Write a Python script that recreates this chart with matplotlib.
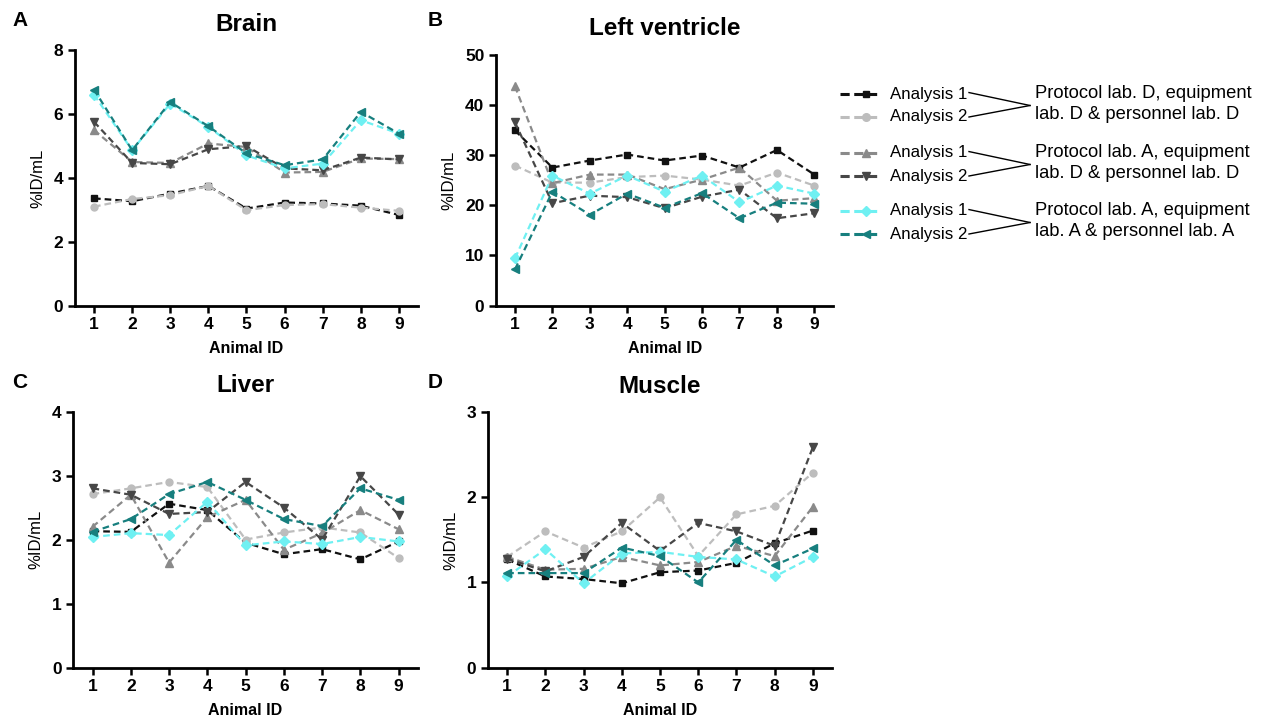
import matplotlib
matplotlib.use("Agg")
import matplotlib.pyplot as plt
from matplotlib.lines import Line2D
import numpy as np

plt.rcParams['font.family'] = ['Liberation Sans', 'DejaVu Sans']

animal_ids = [1, 2, 3, 4, 5, 6, 7, 8, 9]

# order: A1/A2 lab D, A1/A2 protocol A equip D, A1/A2 lab A
brain = [
    [3.36, 3.27, 3.51, 3.75, 3.04, 3.23, 3.20, 3.13, 2.84],
    [3.10, 3.34, 3.46, 3.75, 2.99, 3.15, 3.18, 3.07, 2.97],
    [5.50, 4.50, 4.47, 5.08, 4.97, 4.17, 4.19, 4.61, 4.59],
    [5.76, 4.47, 4.43, 4.90, 5.00, 4.30, 4.24, 4.64, 4.58],
    [6.61, 4.87, 6.33, 5.60, 4.71, 4.30, 4.45, 5.81, 5.39],
    [6.77, 4.87, 6.38, 5.62, 4.77, 4.40, 4.58, 6.07, 5.39],
]
left_ventricle = [
    [34.9, 27.5, 28.9, 30.1, 28.9, 29.9, 27.5, 31.0, 26.1],
    [27.9, 24.5, 24.5, 25.6, 25.9, 25.1, 23.9, 26.5, 23.9],
    [43.7, 24.4, 26.1, 26.1, 23.2, 25.1, 27.5, 20.9, 21.4],
    [36.5, 20.4, 21.9, 21.6, 19.4, 21.7, 23.1, 17.4, 18.4],
    [9.4, 25.9, 22.3, 25.9, 22.7, 25.9, 20.6, 23.9, 22.3],
    [7.2, 22.7, 18.1, 22.3, 19.5, 22.4, 17.4, 20.5, 20.3],
]
liver = [
    [2.13, 2.12, 2.56, 2.46, 1.95, 1.77, 1.85, 1.69, 1.97],
    [2.71, 2.80, 2.90, 2.82, 2.00, 2.11, 2.19, 2.11, 1.71],
    [2.20, 2.70, 1.64, 2.35, 2.62, 1.84, 2.10, 2.46, 2.16],
    [2.80, 2.70, 2.40, 2.43, 2.90, 2.50, 2.00, 2.99, 2.39],
    [2.04, 2.10, 2.07, 2.59, 1.91, 1.97, 1.93, 2.04, 1.97],
    [2.12, 2.32, 2.71, 2.90, 2.62, 2.32, 2.21, 2.80, 2.62],
]
muscle = [
    [1.27, 1.07, 1.04, 0.99, 1.12, 1.14, 1.23, 1.46, 1.61],
    [1.30, 1.60, 1.41, 1.60, 2.00, 1.31, 1.80, 1.90, 2.29],
    [1.30, 1.15, 1.16, 1.30, 1.20, 1.24, 1.43, 1.31, 1.89],
    [1.28, 1.13, 1.30, 1.70, 1.37, 1.70, 1.60, 1.43, 2.59],
    [1.07, 1.39, 0.99, 1.34, 1.36, 1.30, 1.27, 1.07, 1.30],
    [1.11, 1.11, 1.11, 1.41, 1.31, 1.00, 1.50, 1.20, 1.40],
]

series_labels = ["Analysis 1", "Analysis 2"] * 3
group_labels = ["Protocol lab. D, equipment\nlab. D & personnel lab. D",
                "Protocol lab. A, equipment\nlab. D & personnel lab. D",
                "Protocol lab. A, equipment\nlab. A & personnel lab. A"]

colors = ["#111111", "#bdbdbd", "#8a8a8a", "#474747", "#6ff0f2", "#177f7e"]
markers = ["s", "o", "^", "v", "D", "<"]
msizes = [4.5, 5, 5.5, 5.5, 5, 5.5]

# letter, title, data, y ticks, axes rect, letter position (px)
panels = [
    ("A", "Brain", brain, [0, 2, 4, 6, 8], [0.0592, 0.575, 0.271, 0.355], (12, 20)),
    ("B", "Left ventricle", left_ventricle, [0, 10, 20, 30, 40, 50], [0.392, 0.575, 0.266, 0.349], (428, 20)),
    ("C", "Liver", liver, [0, 1, 2, 3, 4], [0.058, 0.0716, 0.272, 0.356], (12, 383)),
    ("D", "Muscle", muscle, [0, 1, 2, 3], [0.3855, 0.0716, 0.2717, 0.355], (428, 383)),
]

W, H = 1266.0, 719.0
fig = plt.figure(figsize=(12.66, 7.19), dpi=100)

for letter, title, data, yticks, rect, lpos in panels:
    ax = fig.add_axes(rect)
    for i, vals in enumerate(data):
        ax.plot(animal_ids, vals, color=colors[i], lw=1.6, dashes=(3, 1.8),
                marker=markers[i], ms=msizes[i], mec=colors[i], mfc=colors[i])
    ax.set_xlim(0.5, 9.5)
    ax.set_ylim(yticks[0], yticks[-1])
    ax.set_yticks(yticks)
    ax.set_xticks(animal_ids)
    for s in ["top", "right"]:
        ax.spines[s].set_visible(False)
    for s in ["left", "bottom"]:
        ax.spines[s].set_linewidth(2)
    ax.tick_params(width=1.8, length=5, labelsize=12.5)
    for lab in ax.get_xticklabels() + ax.get_yticklabels():
        lab.set_fontweight("bold")
    ax.set_xlabel("Animal ID", fontsize=11.5, fontweight="bold", labelpad=6)
    ax.set_ylabel("%ID/mL", fontsize=12, labelpad=6)
    ax.set_title(title, fontsize=17.5, fontweight="bold", pad=14)
    fig.text(lpos[0] / W, 1 - lpos[1] / H, letter, fontsize=15, fontweight="bold",
             ha="left", va="center")

# legend drawn by hand in figure pixels
row_y = [94, 117, 153, 176, 211, 234]
for i in range(6):
    y = 1 - row_y[i] / H
    fig.add_artist(Line2D([840 / W, 877 / W], [y, y], color=colors[i], lw=2.2,
                          dashes=(3, 1.5), transform=fig.transFigure))
    fig.add_artist(Line2D([866 / W], [y], color=colors[i], marker=markers[i],
                          ms=msizes[i] + 0.5, transform=fig.transFigure))
    fig.text(890 / W, y, series_labels[i], fontsize=12.2, va="center", ha="left")
for g in range(3):
    y1 = 1 - row_y[2 * g] / H
    y2 = 1 - row_y[2 * g + 1] / H
    ym = (y1 + y2) / 2
    fig.add_artist(Line2D([969 / W, 1030 / W], [y1 + 0.002, ym], color="black", lw=1,
                          transform=fig.transFigure))
    fig.add_artist(Line2D([969 / W, 1030 / W], [y2, ym], color="black", lw=1,
                          transform=fig.transFigure))
    fig.text(1035 / W, ym + 0.002, group_labels[g], fontsize=13.2, va="center", ha="left",
             linespacing=1.3)

fig.savefig("out.png", dpi=100)
